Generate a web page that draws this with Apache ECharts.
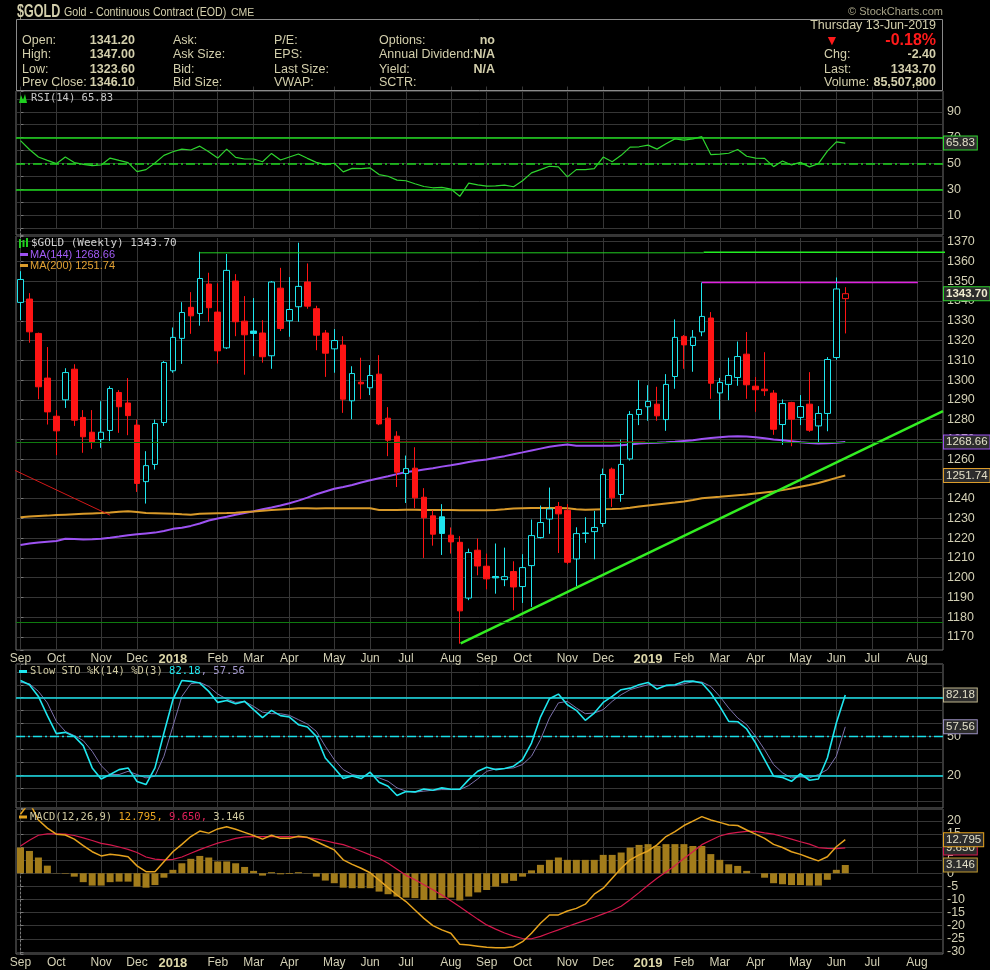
<!DOCTYPE html>
<html><head><meta charset="utf-8">
<script src="https://cdn.jsdelivr.net/npm/echarts@6/dist/echarts.min.js"></script>
<style>html,body{margin:0;padding:0;background:#000;} #c{width:990px;height:970px;}</style>
</head><body><div id="c"></div>
<script>
// ---------- DATA (weekly, index 0 = week of 4-Sep-2017, index 92 = week of 10-Jun-2019) ----------
const monthIdx = [0,4,9,13,17,22,26,30,35,39,43,48,52,56,61,65,70,74,78,82,87,91,95,100];
const monthLbl = ['Sep','Oct','Nov','Dec','2018','Feb','Mar','Apr','May','Jun','Jul','Aug','Sep','Oct','Nov','Dec','2019','Feb','Mar','Apr','May','Jun','Jul','Aug'];

const opens = [1339.3,1341.0,1323.6,1301.0,1281.7,1290.0,1305.5,1281.1,1273.6,1269.9,
1274.5,1293.7,1288.4,1277.2,1248.6,1257.3,1278.5,1304.7,1321.1,1336.8,
1333.7,1348.6,1334.4,1316.3,1350.1,1329.8,1324.8,1323.8,1312.3,1346.5,
1330.0,1337.1,1349.6,1336.1,1323.8,1315.8,1317.7,1289.5,1298.9,1296.1,
1303.0,1280.7,1271.6,1252.7,1255.4,1240.7,1231.3,1230.8,1221.5,1217.9,
1189.7,1213.9,1205.8,1200.6,1199.0,1203.1,1195.5,1206.1,1220.3,1229.7,
1236.0,1234.1,1209.5,1222.6,1223.3,1227.4,1254.9,1242.1,1260.1,1282.6,
1286.5,1287.8,1280.0,1301.8,1322.1,1317.5,1324.4,1331.4,1293.5,1297.8,
1301.3,1313.1,1296.9,1295.4,1293.4,1277.5,1288.6,1281.1,1287.8,1276.8,
1283.1,1311.4,1341.2];
const highs = [1355.1,1344.0,1324.0,1316.7,1284.8,1306.0,1308.0,1284.8,1284.8,1289.3,
1296.9,1294.9,1301.0,1280.0,1264.0,1280.0,1309.6,1326.6,1339.4,1344.5,
1364.9,1354.3,1348.9,1363.8,1353.6,1342.5,1341.5,1330.3,1350.1,1356.8,
1352.1,1369.5,1359.0,1337.6,1325.3,1325.8,1322.2,1307.0,1311.3,1307.6,
1312.6,1286.3,1274.1,1261.8,1266.0,1245.3,1234.1,1237.2,1225.4,1221.0,
1214.7,1219.8,1212.2,1217.3,1215.2,1208.3,1211.9,1229.4,1236.5,1245.6,
1238.3,1237.2,1225.5,1230.6,1233.8,1255.2,1255.7,1269.9,1284.3,1300.0,
1297.4,1296.6,1303.0,1330.7,1322.8,1325.3,1349.4,1334.4,1301.1,1311.3,
1319.5,1324.3,1301.5,1314.1,1294.9,1290.2,1289.0,1292.4,1304.0,1286.8,
1311.6,1351.9,1347.0];
const lows = [1330.3,1318.9,1290.3,1277.5,1262.0,1285.9,1276.8,1263.2,1265.2,1265.7,
1269.2,1273.3,1272.1,1243.4,1237.5,1254.7,1276.8,1303.7,1308.2,1323.4,
1327.5,1329.5,1308.4,1315.7,1322.2,1302.7,1312.1,1308.8,1305.7,1324.8,
1321.9,1329.5,1336.1,1315.1,1301.6,1303.7,1283.4,1280.2,1290.3,1292.4,
1277.2,1261.5,1245.9,1237.8,1235.2,1210.0,1216.2,1211.5,1212.2,1166.6,
1188.6,1201.2,1194.1,1191.9,1195.7,1183.5,1187.2,1185.2,1219.8,1222.2,
1212.5,1206.8,1195.7,1217.6,1209.3,1225.7,1235.8,1238.4,1259.3,1277.2,
1279.4,1279.4,1274.3,1295.6,1305.7,1304.2,1322.2,1290.5,1279.9,1289.8,
1297.1,1290.5,1283.9,1292.0,1272.3,1267.2,1266.5,1277.2,1273.8,1268.6,
1274.1,1310.3,1323.6];
const closes = [1350.9,1324.4,1296.6,1283.9,1274.3,1303.8,1279.7,1271.3,1268.4,1273.6,
1295.7,1286.5,1282.0,1247.7,1256.7,1278.0,1308.9,1321.6,1334.2,1332.5,
1351.4,1336.6,1314.8,1355.5,1329.5,1322.9,1323.6,1311.8,1349.6,1326.1,
1335.7,1347.4,1337.4,1322.7,1313.6,1320.0,1290.3,1303.3,1298.1,1302.3,
1277.8,1269.6,1253.4,1255.2,1240.4,1230.3,1222.0,1222.4,1218.1,1183.2,
1212.7,1205.9,1199.4,1199.9,1200.5,1195.3,1205.1,1221.3,1227.9,1234.8,
1232.3,1207.8,1222.3,1222.4,1225.4,1252.2,1240.4,1257.3,1282.6,1285.1,
1289.2,1281.9,1297.8,1321.6,1317.8,1321.7,1332.2,1298.4,1298.8,1302.3,
1311.9,1297.6,1295.1,1294.6,1275.1,1288.1,1280.2,1286.6,1274.6,1283.1,
1310.4,1346.1,1343.7];

const ma144 = [1216.5,1217.3,1217.8,1218.2,1218.6,1219.7,1219.6,1219.3,1219.4,1219.7,
1220.2,1220.8,1221.5,1222.0,1222.4,1222.8,1223.6,1224.7,1225.3,1226.2,
1227.4,1228.9,1229.9,1230.8,1231.8,1232.7,1233.6,1234.6,1235.5,1236.5,
1237.7,1239.0,1240.5,1242.2,1243.6,1245.0,1245.9,1246.9,1248.2,1249.3,
1250.3,1251.3,1252.4,1253.5,1254.0,1254.7,1255.4,1256.2,1256.9,1257.7,
1258.5,1259.3,1259.8,1260.7,1261.5,1262.5,1263.4,1264.4,1265.3,1266.2,
1266.9,1267.4,1266.8,1266.7,1266.7,1266.7,1266.7,1267.0,1267.4,1267.9,
1268.2,1268.3,1268.5,1268.8,1269.2,1269.6,1270.2,1270.7,1271.1,1271.5,
1271.6,1271.4,1271.0,1270.5,1269.9,1269.5,1269.0,1268.5,1268.1,1267.9,
1268.0,1268.3,1268.66];
const ma200 = [1230.6,1231.0,1231.2,1231.4,1231.7,1231.9,1232.1,1232.3,1232.5,1232.7,
1233.0,1233.4,1233.6,1233.2,1232.7,1232.6,1232.5,1232.4,1232.1,1231.9,
1232.3,1232.5,1232.6,1232.7,1232.9,1233.2,1233.5,1233.9,1234.2,1234.5,
1234.8,1235.1,1235.1,1235.0,1235.1,1235.1,1235.1,1235.1,1235.1,1235.1,
1234.3,1234.2,1234.3,1234.4,1234.4,1234.3,1234.3,1234.2,1234.2,1234.1,
1234.1,1234.1,1234.1,1234.3,1234.6,1235.0,1235.1,1235.2,1235.3,1235.3,
1235.3,1235.1,1234.6,1234.4,1234.5,1234.6,1234.7,1234.9,1235.4,1236.0,
1236.5,1237.0,1237.5,1238.0,1238.6,1239.3,1240.2,1240.6,1240.9,1241.3,
1241.7,1242.1,1242.6,1243.1,1243.6,1244.3,1245.1,1246.0,1246.9,1247.9,
1249.2,1250.5,1251.74];

const rsi = [67.8,60.9,55.1,52.5,50.0,55.1,50.8,49.5,48.5,49.0,
54.3,52.5,50.8,43.9,45.4,50.5,56.4,59.2,61.2,60.5,
63.5,59.2,54.3,61.2,54.8,53.6,53.6,51.5,57.9,52.8,
55.1,57.4,54.1,51.0,49.2,50.3,43.7,46.4,46.2,46.7,
41.6,40.3,37.3,36.8,34.5,32.4,31.4,31.7,30.4,24.8,
35.0,33.7,32.7,32.9,33.5,32.2,36.8,42.9,45.4,48.0,
47.5,39.8,45.4,45.4,46.2,55.1,51.5,56.4,62.7,63.0,
64.3,61.2,65.3,69.1,68.1,69.1,70.8,57.0,57.3,58.0,
60.9,55.7,54.3,54.1,47.7,52.0,49.0,51.0,47.5,50.0,
59.7,66.8,65.83];

const stoK = [93.3,90.0,81.0,66.2,52.3,53.3,50.2,43.1,25.9,17.4,
20.8,24.6,25.9,15.4,13.1,25.9,52.8,78.5,93.3,92.6,
91.3,84.9,76.4,77.9,75.4,77.2,70.8,64.6,70.3,66.2,
65.1,59.2,57.4,50.2,33.5,25.9,17.7,19.7,17.7,22.6,
14.9,11.8,4.6,7.7,7.4,9.7,8.7,10.5,9.5,9.5,
16.9,23.3,26.4,24.6,25.4,27.2,32.3,45.1,65.1,79.2,
82.8,74.6,70.3,62.6,68.2,76.4,81.0,86.2,87.4,90.0,
91.8,86.7,89.5,90.0,92.6,92.8,91.3,83.6,73.3,61.8,
61.5,55.9,45.1,32.3,19.5,18.5,15.6,21.5,16.4,17.4,
33.5,60.5,82.18];
const stoD = [91.8,90.8,84.9,76.0,61.8,54.1,50.8,46.9,38.7,27.7,
20.8,20.8,23.3,20.8,18.2,19.5,34.9,58.0,81.0,90.8,
91.8,88.7,82.8,79.0,76.4,77.2,73.3,68.9,67.7,67.7,
66.4,63.1,59.7,54.1,42.6,32.3,24.6,20.8,19.5,20.0,
18.2,15.6,10.5,8.0,7.2,8.0,8.7,9.2,9.2,9.2,
12.3,17.4,23.3,25.1,25.4,25.9,28.5,34.9,47.7,64.4,
76.0,77.2,72.1,67.7,68.2,70.8,77.2,82.3,86.2,88.2,
90.0,89.5,89.2,89.2,90.8,92.3,92.1,88.7,81.0,72.1,
64.4,59.2,50.2,40.0,28.5,22.1,18.2,19.0,18.2,20.8,
24.6,34.9,57.56];

const macdLine = [22.5,27.0,20.3,17.2,14.9,14.6,13.0,10.5,8.2,6.6,
7.2,6.9,6.3,2.8,0.6,0.6,4.4,8.2,11.0,14.0,
16.1,15.3,16.9,17.7,16.8,15.6,14.4,13.0,14.5,13.3,
13.3,14.1,13.7,12.1,10.5,8.9,5.1,3.4,1.9,0.2,
-2.6,-5.5,-8.3,-10.8,-14.0,-17.2,-20.0,-21.6,-22.9,-27.1,
-27.4,-27.8,-28.2,-28.4,-28.4,-28.0,-26.1,-22.9,-19.1,-15.9,
-15.9,-14.4,-13.4,-11.8,-8.0,-5.7,-1.9,1.9,5.1,7.0,
8.5,10.8,14.0,15.9,18.2,19.9,21.6,20.3,19.4,18.4,
18.2,16.5,14.9,13.3,11.0,9.8,8.2,7.2,5.9,4.7,
6.3,10.1,12.795];
const signalLine = [10.4,12.6,14.5,15.0,15.0,14.9,14.4,13.5,12.5,11.4,
10.8,10.0,9.1,7.9,6.2,5.4,5.1,5.3,6.2,7.6,
9.0,10.3,11.5,12.4,13.3,13.9,14.0,14.0,14.0,14.0,
14.0,13.9,13.6,13.1,12.4,11.6,10.9,9.7,8.4,7.0,
5.7,3.8,1.5,-0.8,-2.5,-4.4,-6.3,-8.3,-10.5,-12.8,
-15.2,-17.5,-19.7,-21.3,-22.8,-24.0,-24.9,-25.0,-24.1,-22.8,
-21.6,-20.3,-19.1,-18.0,-16.8,-15.5,-14.2,-12.6,-10.1,-7.4,
-4.6,-1.9,0.5,2.9,5.6,8.2,10.9,12.6,14.2,15.1,
15.6,16.0,16.0,15.4,14.9,14.0,13.0,12.0,11.1,9.8,
9.5,9.4,9.65];
const macdHist = [9.8,8.5,6.0,2.9,0.1,-0.2,-1.3,-3.4,-4.7,-4.7,
-3.4,-3.2,-3.2,-5.1,-5.5,-4.5,-1.7,1.3,3.8,5.5,
6.6,6.0,4.5,4.5,3.8,2.4,0.9,-0.9,0.4,-0.4,
-0.3,0.4,0.1,-1.3,-2.8,-3.8,-5.5,-5.7,-5.7,-5.7,
-7.0,-8.0,-8.9,-9.3,-9.5,-10.2,-10.2,-9.5,-9.3,-10.4,
-8.9,-7.3,-6.4,-5.1,-3.8,-2.9,-1.3,1.1,3.2,5.1,
6.0,5.1,5.1,5.1,5.1,7.0,7.0,7.9,9.8,10.8,
11.1,10.4,11.1,11.1,11.1,10.4,10.4,7.3,5.1,3.4,
2.8,0.9,0.0,-1.7,-3.8,-4.2,-4.5,-4.5,-4.7,-4.7,
-2.5,1.3,3.146];

// annotation lines drawn on the chart ([week index, price])
const upTrend = [[49.1,1166.7],[102.9,1284.3]];
const downTrend = [[-2.26,1257.8],[10.0,1231.6]];
const resistance = [[76,1349.4],[100.1,1349.4]];
const topLineA = [[20,1364.4],[76.2,1364.4]];
const topLineB = [[76.2,1364.7],[108.1,1364.7]];
const redLevel = [[42,1268.66],[69.7,1268.66]];
const greenLevels = [1268.66, 1177.3];

// header texts
const hdrLabels = [['Open:','High:','Low:','Prev Close:'],['Ask:','Ask Size:','Bid:','Bid Size:'],['P/E:','EPS:','Last Size:','VWAP:'],['Options:','Annual Dividend:','Yield:','SCTR:']];
const hdrOHLC = [opens[92].toFixed(2), highs[92].toFixed(2), lows[92].toFixed(2), closes[91].toFixed(2)];
const hdrOpt = ['no','N/A','N/A',''];
const hdrRightLbl = ['Chg:','Last:','Volume:'];
const hdrRightVal = ['-2.40', closes[92].toFixed(2), '85,507,800'];

// ---------- CHART ----------
const F_AX = "'Liberation Sans',Arial,sans-serif";
const F_HD = "'Liberation Sans',Arial,sans-serif";
const F_MO = "'DejaVu Sans Mono',monospace";
const HC = '#d3cfac';
const AXC = '#d2cfb4';
const UP = '#1fe6ee', DN = '#ff1414';
const X_MIN = -0.5, X_MAX = 102.9;
const GRID_C = '#363636';

const gridDefs = [
  {left:16, width:927, top:91, height:144},
  {left:16, width:927, top:236, height:414},
  {left:16, width:927, top:664, height:144},
  {left:16, width:927, top:809, height:145}
];
const grids = gridDefs.map(g => Object.assign({}, g, {show:true, borderColor:'#6e6e6e', borderWidth:1, backgroundColor:'transparent'}));

function mkX(i, showLabel) {
  return {type:'value', gridIndex:i, min:X_MIN, max:X_MAX,
    axisLine:{show:false},
    // month grid lines are drawn as full-height ticks at the month starts
    axisTick:{show:true, inside:true, length:gridDefs[i].height - 2, customValues:monthIdx, lineStyle:{color:GRID_C, width:1}},
    axisLabel:{show:showLabel, customValues:monthIdx, color:AXC, fontSize:12, fontFamily:F_AX, margin:3,
      formatter: v => { const t = monthLbl[monthIdx.indexOf(Math.round(v))] || ''; return /^\d{4}$/.test(t) ? '{y|' + t + '}' : t; },
      rich:{y:{color:'#dcd6a8', fontWeight:'bold', fontSize:13, fontFamily:F_AX}}},
    splitLine:{show:false}};
}
function isMult(v, m) { const r = Math.round(v); return Math.abs(v - r) < 1e-6 && r % m === 0; }
function mkY(i, min, max, itv, fmt) {
  return {type:'value', gridIndex:i, position:'right', min, max, scale:true,
    splitNumber: Math.round((max - min) / itv), minInterval:itv, maxInterval:itv,
    axisLine:{show:true, lineStyle:{color:'#7a7a7a', type:[2,2]}},
    axisTick:{show:true, length:3, lineStyle:{color:'#7a7a7a'}},
    axisLabel:{color:AXC, fontSize:12.5, fontFamily:F_AX, margin:4, formatter:fmt},
    splitLine:{show:true, lineStyle:{color:GRID_C, width:1}}};
}
function box(border, text, color, bold) {
  return {show:true, position:'end', distance:1, formatter:text, backgroundColor:'#2c2c2c', borderColor:border, borderWidth:1,
    padding:[1,2,0,2], color:color || '#e2dfc8', fontSize:11.5, fontFamily:F_AX, fontWeight: bold ? 'bold' : 'normal', opacity:1};
}
const hidden = {color:'rgba(0,0,0,0)', width:0};
const pairs = arr => arr.map((v, i) => [i, v]);

const candleData = closes.map((c, i) => {
  const o = opens[i];
  const prev = i ? closes[i - 1] : o;
  const col = c >= prev ? UP : DN;
  const fill = c >= o ? '#000' : col;
  return {value:[i, o, c, lows[i], highs[i]],
    itemStyle:{color:fill, color0:fill, borderColor:col, borderColor0:col, borderColorDoji:col, borderWidth:1}};
});

function annot(data, color, width, clip) {
  return {type:'line', xAxisIndex:1, yAxisIndex:1, data, symbol:'none', silent:true, clip: clip !== false,
    lineStyle:{color, width}, z:4, animation:false};
}

// graphic texts
const G = [];
function txt(x, y, text, st, extra) {
  G.push(Object.assign({type:'text', x, y, silent:true, z:100,
    style:Object.assign({text, fill:HC, font:'12.5px ' + F_HD, align:'left', textAlign:'left', verticalAlign:'middle', textVerticalAlign:'middle'}, st || {})}, extra || {}));
}
function seg(x1, y1, x2, y2, color, w) {
  G.push({type:'line', silent:true, z:100, shape:{x1, y1, x2, y2}, style:{stroke:color, lineWidth:w}});
}
txt(17, 12, '$GOLD', {font:'bold 19px ' + F_HD}, {scaleX:0.66});
txt(64, 12.5, 'Gold - Continuous Contract (EOD)', {font:'13px ' + F_HD}, {scaleX:0.82});
txt(231, 12.5, 'CME', {font:'11px ' + F_HD}, {scaleX:0.95});
txt(943, 12, '\u00A9 StockCharts.com', {font:'11px ' + F_HD, fill:'#a8a488', align:'right', textAlign:'right'});
G.push({type:'rect', silent:true, z:99, shape:{x:16.5, y:19.5, width:926, height:71}, style:{fill:'none', stroke:'#8a8a8a', lineWidth:1}});
const rowsY = [41, 55, 69.5, 83];
const colX = [22, 173, 274, 379];
hdrLabels.forEach((col, c) => col.forEach((t, r) => txt(colX[c], rowsY[r], t)));
hdrOHLC.forEach((t, r) => txt(135, rowsY[r], t, {font:'bold 12.5px ' + F_HD, align:'right', textAlign:'right'}));
hdrOpt.forEach((t, r) => txt(495, rowsY[r], t, {font:'bold 12.5px ' + F_HD, align:'right', textAlign:'right'}));
txt(936, 26, 'Thursday 13-Jun-2019', {align:'right', textAlign:'right'});
txt(832, 41, '\u25BC', {fill:'#ff1a1a', font:'14px ' + F_HD, align:'center', textAlign:'center'});
txt(936, 41, '-0.18%', {fill:'#ff1a1a', font:'bold 16px ' + F_HD, align:'right', textAlign:'right'});
hdrRightLbl.forEach((t, r) => txt(824, rowsY[r + 1], t));
hdrRightVal.forEach((t, r) => txt(936, rowsY[r + 1], t, {font:'bold 12.5px ' + F_HD, align:'right', textAlign:'right'}));

// panel legends
G.push({type:'polygon', silent:true, z:100, shape:{points:[[19,103],[21,95],[23,100],[25,94],[27,103]]}, style:{fill:'#1fcf1f'}});
txt(31, 98.5, 'RSI(14) ' + rsi[92].toFixed(2), {font:'10.5px ' + F_MO, fill:'#c8c8c8'});
seg(20, 239, 20, 248, '#1fcf1f', 2); seg(23.5, 240, 23.5, 247, '#1fcf1f', 2); seg(27, 238, 27, 247, '#1fcf1f', 2);
txt(31, 243.5, '$GOLD (Weekly) ' + closes[92].toFixed(2), {font:'11px ' + F_MO, fill:'#d0d0d0'});
seg(20, 254.5, 28, 254.5, '#9d52f2', 3);
txt(30, 254.5, 'MA(144) ' + ma144[92].toFixed(2), {font:'11px ' + F_HD, fill:'#a25cf5'});
seg(20, 265.5, 28, 265.5, '#dc9d2c', 3);
txt(30, 265.5, 'MA(200) ' + ma200[92].toFixed(2), {font:'11px ' + F_HD, fill:'#e3a234'});
seg(19, 671.5, 27, 671.5, UP, 3);
txt(30, 671.5, '{a|Slow STO %K(14) %D(3) }{b|' + stoK[92].toFixed(2) + '}{c|, ' + stoD[92].toFixed(2) + '}', {font:'10.5px ' + F_MO,
  rich:{a:{fill:'#cfc9a0', font:'10.5px ' + F_MO}, b:{fill:UP, font:'10.5px ' + F_MO}, c:{fill:'#a298cc', font:'10.5px ' + F_MO}}});
seg(19, 817, 27, 817, '#e2a21e', 3);
txt(30, 817, '{a|MACD(12,26,9) }{b|' + macdLine[92].toFixed(3) + ', }{c|' + signalLine[92].toFixed(3) + ', }{a|' + macdHist[92].toFixed(3) + '}', {font:'10.5px ' + F_MO,
  rich:{a:{fill:'#cfc9a0', font:'10.5px ' + F_MO}, b:{fill:'#e8a420', font:'10.5px ' + F_MO}, c:{fill:'#e0205a', font:'10.5px ' + F_MO}}});

const dashDot = [9, 3, 2, 3];
const option = {
  backgroundColor:'#000',
  animation:false,
  grid:grids,
  xAxis:[mkX(0, false), mkX(1, true), mkX(2, false), mkX(3, true)],
  yAxis:[
    mkY(0, -5, 106, 10, v => [10,30,50,70,90].some(t => isMult(v, 1) && Math.round(v) === t) ? String(Math.round(v)) : ''),
    mkY(1, 1163.4, 1372.9, 10, v => isMult(v, 10) ? String(Math.round(v)) : ''),
    mkY(2, -5, 106, 10, v => [20,50,80].some(t => isMult(v, 1) && Math.round(v) === t) ? String(Math.round(v)) : ''),
    mkY(3, -30.8, 24.5, 5, v => isMult(v, 5) ? String(Math.round(v)) : '')
  ],
  series:[
    // RSI
    {type:'line', xAxisIndex:0, yAxisIndex:0, data:pairs(rsi), symbol:'none', lineStyle:{color:'#2fd42f', width:1.2}, z:3,
      markLine:{silent:true, symbol:['none','none'], animation:false, label:{show:false}, data:[
        {yAxis:70, lineStyle:{color:'#1ed81e', width:1.6, type:'solid'}},
        {yAxis:30, lineStyle:{color:'#1ed81e', width:1.6, type:'solid'}},
        {yAxis:50, lineStyle:{color:'#1ed81e', width:1.6, type:dashDot}},
        {yAxis:rsi[92], lineStyle:hidden, label:box('#2fd42f', rsi[92].toFixed(2))}
      ]}},
    // price candles
    {type:'candlestick', xAxisIndex:1, yAxisIndex:1, data:candleData, barWidth:6, z:3,
      markLine:{silent:true, symbol:['none','none'], animation:false, label:{show:false}, data:[
        {yAxis:greenLevels[0], lineStyle:{color:'#0f7a0f', width:1, type:'solid'}, label:box('#9d52f2', ma144[92].toFixed(2))},
        {yAxis:greenLevels[1], lineStyle:{color:'#0f7a0f', width:1, type:'solid'}},
        {yAxis:closes[92], lineStyle:hidden, label:box('#2fd42f', closes[92].toFixed(2), '#f0ecd0', true)},
        {yAxis:ma200[92], lineStyle:hidden, label:box('#dc9d2c', ma200[92].toFixed(2))}
      ]}},
    {type:'line', xAxisIndex:1, yAxisIndex:1, data:pairs(ma144), symbol:'none', lineStyle:{color:'#9d52f2', width:2}, z:2},
    {type:'line', xAxisIndex:1, yAxisIndex:1, data:pairs(ma200), symbol:'none', lineStyle:{color:'#d99a2a', width:2}, z:2},
    annot(redLevel, '#c81212', 1),
    annot(upTrend, '#33ee22', 2.5),
    annot(downTrend, '#d41818', 1, false),
    annot(resistance, '#e020e0', 1.5),
    annot(topLineA, '#22cc22', 1),
    annot(topLineB, '#22ee22', 1.5, false),
    // Slow STO
    {type:'line', xAxisIndex:2, yAxisIndex:2, data:pairs(stoD), symbol:'none', lineStyle:{color:'#7b70aa', width:1}, z:2},
    {type:'line', xAxisIndex:2, yAxisIndex:2, data:pairs(stoK), symbol:'none', lineStyle:{color:UP, width:1.6}, z:3,
      markLine:{silent:true, symbol:['none','none'], animation:false, label:{show:false}, data:[
        {yAxis:80, lineStyle:{color:'#19dfe8', width:1.6, type:'solid'}},
        {yAxis:20, lineStyle:{color:'#19dfe8', width:1.6, type:'solid'}},
        {yAxis:50, lineStyle:{color:'#19dfe8', width:1.4, type:dashDot}},
        {yAxis:stoK[92], lineStyle:hidden, label:box('#bdb48c', stoK[92].toFixed(2))},
        {yAxis:stoD[92], lineStyle:hidden, label:box('#9a90c0', stoD[92].toFixed(2))}
      ]}},
    // MACD
    {type:'bar', xAxisIndex:3, yAxisIndex:3, data:pairs(macdHist), barWidth:7, itemStyle:{color:'#a27c1b'}, z:2},
    {type:'line', xAxisIndex:3, yAxisIndex:3, data:pairs(signalLine), symbol:'none', lineStyle:{color:'#d4184c', width:1.2}, z:3},
    {type:'line', xAxisIndex:3, yAxisIndex:3, data:pairs(macdLine), symbol:'none', lineStyle:{color:'#e6a31e', width:1.5}, z:4,
      markLine:{silent:true, symbol:['none','none'], animation:false, label:{show:false}, data:[
        {yAxis:signalLine[92], lineStyle:hidden, label:box('#d4184c', signalLine[92].toFixed(3))},
        {yAxis:macdHist[92], lineStyle:hidden, label:box('#c09a30', macdHist[92].toFixed(3))},
        {yAxis:macdLine[92], lineStyle:hidden, label:box('#e6a31e', macdLine[92].toFixed(3))}
      ]}}
  ],
  graphic:{elements:G}
};
const chart = echarts.init(document.getElementById('c'));
chart.setOption(option);
</script></body></html>
